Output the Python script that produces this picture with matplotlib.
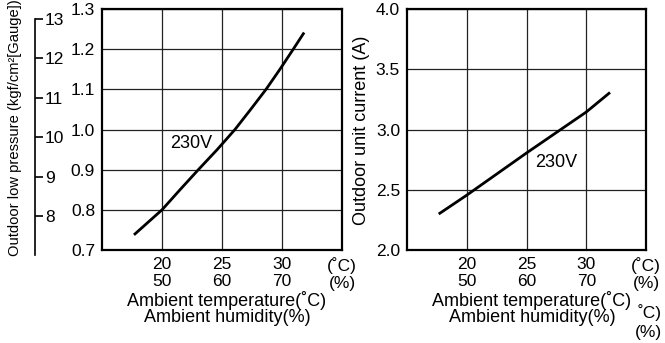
import matplotlib.pyplot as plt

plt.rcParams['font.family'] = ['Liberation Sans', 'DejaVu Sans']

# data
temp_p = [17.75, 20, 21.5, 23.03, 24.6, 26.08, 27.39, 28.67, 29.83, 30.94, 31.78]
pressure = [0.74, 0.80, 0.85, 0.90, 0.95, 1.0, 1.05, 1.1, 1.15, 1.2, 1.2385]

temp_c = [17.75, 20, 25, 30, 31.9]
current = [2.305, 2.455, 2.805, 3.145, 3.30]

xticks = [20, 25, 30, 35]
xticklabels = ['20\n50', '25\n60', '30\n70', '(˚C)\n(%)']
p_ticks = [0.7, 0.8, 0.9, 1.0, 1.1, 1.2, 1.3]
kgf_ticks = [7, 8, 9, 10, 11, 12, 13]
c_ticks = [2.0, 2.5, 3.0, 3.5, 4.0]

KGF = 0.0980665  # MPa per kgf/cm2
FS = 12.5
LFS = 13

fig = plt.figure(figsize=(6.65, 3.43), dpi=100)
ax1 = fig.add_axes([102 / 665, 93 / 343, 240 / 665, 241 / 343])
ax2 = fig.add_axes([407 / 665, 93 / 343, 239 / 665, 241 / 343])


def style(ax, yticks, fmt):
    ax.set_xlim(15, 35)
    ax.set_ylim(yticks[0], yticks[-1])
    ax.set_xticks(xticks)
    ax.set_xticklabels(xticklabels, fontsize=FS, linespacing=1.15)
    ax.set_yticks(yticks)
    ax.set_yticklabels([fmt % v for v in yticks], fontsize=FS)
    ax.tick_params(length=0, pad=5)
    ax.grid(True, color='#222222', linewidth=0.9)
    for s in ax.spines.values():
        s.set_linewidth(1.6)


style(ax1, p_ticks, '%.1f')
style(ax2, c_ticks, '%.1f')

ax1.plot(temp_p, pressure, color='black', linewidth=2)
ax1.text(20.7, 0.965, '230V', fontsize=LFS, va='center')

ax2.plot(temp_c, current, color='black', linewidth=2)
ax2.text(25.7, 2.73, '230V', fontsize=LFS, va='center')

# kgf/cm2 scale on the far left
sec = ax1.secondary_yaxis(-0.279, functions=(lambda y: y / KGF, lambda k: k * KGF))
sec.set_alignment('right')
sec.set_yticks(kgf_ticks)
sec.tick_params(direction='out', length=6, width=1.2, labelsize=FS, pad=1)
sec.spines['right'].set_bounds(7, 13)
sec.spines['right'].set_linewidth(1.2)
fig.text(15 / 665, 1 - 128 / 343, 'Outdoor low pressure (kgf/cm²[Gauge])',
         rotation=90, fontsize=10.6, ha='center', va='center')

fig.text(362 / 665, 1 - 130 / 343, 'Outdoor unit current (A)',
         rotation=90, fontsize=LFS, ha='center', va='center')

for cx in (227, 532):
    fig.text(cx / 665, 1 - 300 / 343, 'Ambient temperature(˚C)', fontsize=LFS,
             ha='center', va='center')
    fig.text(cx / 665, 1 - 318 / 343, 'Ambient humidity(%)', fontsize=LFS,
             ha='center', va='center')

# stray labels under the right chart
fig.text(650 / 665, 1 - 313 / 343, '˚C)', fontsize=FS, ha='center', va='center')
fig.text(648 / 665, 1 - 333 / 343, '(%)', fontsize=FS, ha='center', va='center')

plt.savefig('out.png', dpi=100)
